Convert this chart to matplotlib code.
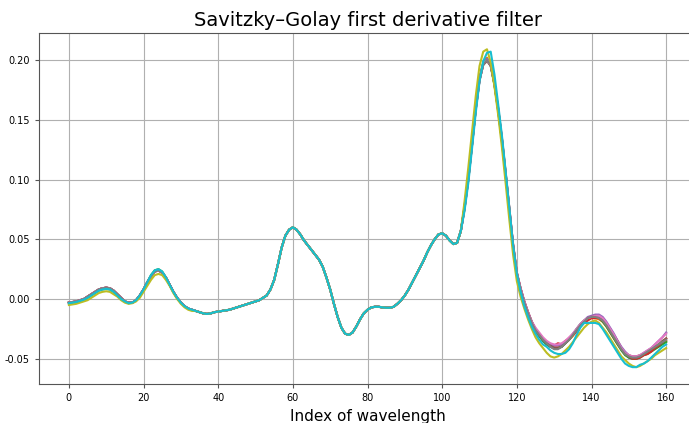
import numpy as np
import matplotlib.pyplot as plt

# wavelength index 0..160
idx = np.arange(161)

# start of the spectra (index 0..33), three groups
head_upper = [-0.003, -0.0025, -0.002, -0.001, 0.000, 0.002, 0.004, 0.006, 0.008, 0.009,
              0.0095, 0.009, 0.007, 0.004, 0.001, -0.002, -0.003, -0.003, -0.001, 0.003,
              0.008, 0.014, 0.019, 0.023, 0.024, 0.022, 0.018, 0.012, 0.006, 0.001,
              -0.003, -0.006, -0.008, -0.009]
head_mid = [-0.0035, -0.003, -0.0025, -0.0015, -0.0005, 0.001, 0.003, 0.005, 0.007, 0.008,
            0.0085, 0.008, 0.006, 0.003, 0.000, -0.002, -0.0035, -0.003, -0.001, 0.003,
            0.008, 0.014, 0.020, 0.024, 0.025, 0.023, 0.018, 0.012, 0.006, 0.001,
            -0.003, -0.006, -0.008, -0.009]
head_lower = [-0.005, -0.0045, -0.004, -0.003, -0.002, -0.001, 0.001, 0.003, 0.005, 0.006,
              0.0065, 0.006, 0.004, 0.002, -0.001, -0.003, -0.004, -0.0035, -0.002, 0.001,
              0.006, 0.011, 0.016, 0.020, 0.021, 0.020, 0.016, 0.011, 0.005, 0.000,
              -0.004, -0.007, -0.009, -0.010]

# common part (index 34..105)
body = [-0.010, -0.011, -0.012, -0.0125, -0.012, -0.011, -0.0105, -0.010, -0.0095, -0.009,
        -0.008, -0.007, -0.006, -0.005, -0.004, -0.003, -0.002, -0.001, 0.001, 0.003,
        0.008, 0.016, 0.029, 0.043, 0.053, 0.058, 0.060, 0.058, 0.054, 0.049,
        0.045, 0.041, 0.037, 0.033, 0.027, 0.018, 0.008, -0.004, -0.015, -0.024,
        -0.029, -0.030, -0.028, -0.023, -0.017, -0.012, -0.009, -0.007, -0.0065, -0.0065,
        -0.007, -0.0073, -0.0073, -0.0065, -0.004, -0.001, 0.003, 0.008, 0.014, 0.020,
        0.026, 0.032, 0.039, 0.045, 0.050, 0.054, 0.055, 0.053, 0.049, 0.046,
        0.047, 0.057]

# main peak and end of each spectrum (index 106..160)
tail_blue = [0.077, 0.101, 0.130, 0.160, 0.184, 0.197, 0.201, 0.196, 0.180, 0.158,
             0.133, 0.104, 0.074, 0.044, 0.021, 0.008, -0.003, -0.012, -0.020, -0.026,
             -0.031, -0.035, -0.038, -0.040, -0.041, -0.041, -0.040, -0.037, -0.034, -0.030,
             -0.026, -0.022, -0.019, -0.016, -0.015, -0.014, -0.015, -0.018, -0.022, -0.027,
             -0.032, -0.037, -0.042, -0.046, -0.049, -0.050, -0.050, -0.048, -0.046, -0.045,
             -0.043, -0.041, -0.039, -0.037, -0.035]
tail_orange = [0.077, 0.101, 0.130, 0.160, 0.184, 0.198, 0.202, 0.196, 0.180, 0.158,
               0.133, 0.104, 0.074, 0.044, 0.021, 0.008, -0.003, -0.012, -0.020, -0.026,
               -0.030, -0.034, -0.037, -0.039, -0.040, -0.040, -0.039, -0.037, -0.034, -0.031,
               -0.027, -0.023, -0.020, -0.017, -0.016, -0.016, -0.017, -0.019, -0.023, -0.028,
               -0.033, -0.038, -0.042, -0.045, -0.047, -0.048, -0.048, -0.047, -0.046, -0.044,
               -0.042, -0.040, -0.038, -0.036, -0.035]
tail_green = [0.078, 0.102, 0.131, 0.161, 0.185, 0.198, 0.201, 0.195, 0.179, 0.157,
              0.132, 0.103, 0.073, 0.043, 0.020, 0.007, -0.004, -0.013, -0.021, -0.027,
              -0.031, -0.035, -0.038, -0.040, -0.041, -0.041, -0.040, -0.037, -0.034, -0.030,
              -0.025, -0.021, -0.018, -0.016, -0.015, -0.015, -0.016, -0.019, -0.023, -0.028,
              -0.033, -0.038, -0.043, -0.047, -0.049, -0.050, -0.050, -0.049, -0.047, -0.046,
              -0.044, -0.042, -0.040, -0.038, -0.036]
tail_red = [0.076, 0.100, 0.129, 0.159, 0.183, 0.196, 0.200, 0.196, 0.181, 0.160,
            0.135, 0.106, 0.076, 0.046, 0.022, 0.009, -0.002, -0.011, -0.019, -0.025,
            -0.030, -0.033, -0.036, -0.038, -0.039, -0.037, -0.038, -0.035, -0.033, -0.030,
            -0.027, -0.023, -0.020, -0.018, -0.016, -0.016, -0.016, -0.018, -0.021, -0.025,
            -0.030, -0.035, -0.041, -0.045, -0.048, -0.050, -0.050, -0.049, -0.047, -0.046,
            -0.044, -0.041, -0.039, -0.036, -0.033]
tail_purple = [0.076, 0.100, 0.129, 0.159, 0.183, 0.197, 0.201, 0.197, 0.181, 0.159,
               0.134, 0.105, 0.075, 0.045, 0.022, 0.009, -0.002, -0.011, -0.019, -0.025,
               -0.029, -0.033, -0.036, -0.038, -0.039, -0.039, -0.038, -0.036, -0.033, -0.029,
               -0.025, -0.021, -0.018, -0.015, -0.014, -0.013, -0.013, -0.015, -0.019, -0.024,
               -0.029, -0.035, -0.040, -0.044, -0.047, -0.048, -0.048, -0.047, -0.045, -0.043,
               -0.041, -0.038, -0.035, -0.032, -0.028]
tail_brown = [0.076, 0.100, 0.129, 0.159, 0.183, 0.196, 0.199, 0.195, 0.180, 0.159,
              0.134, 0.105, 0.075, 0.045, 0.022, 0.009, -0.002, -0.011, -0.019, -0.025,
              -0.030, -0.034, -0.037, -0.039, -0.041, -0.041, -0.040, -0.037, -0.034, -0.030,
              -0.026, -0.022, -0.019, -0.016, -0.015, -0.014, -0.015, -0.018, -0.022, -0.027,
              -0.032, -0.037, -0.042, -0.046, -0.048, -0.049, -0.049, -0.048, -0.046, -0.044,
              -0.042, -0.040, -0.038, -0.035, -0.033]
tail_pink = [0.076, 0.100, 0.129, 0.159, 0.183, 0.197, 0.200, 0.196, 0.181, 0.159,
             0.134, 0.105, 0.075, 0.045, 0.022, 0.009, -0.002, -0.011, -0.019, -0.024,
             -0.028, -0.032, -0.035, -0.037, -0.038, -0.038, -0.037, -0.035, -0.032, -0.029,
             -0.025, -0.021, -0.018, -0.016, -0.015, -0.014, -0.014, -0.016, -0.020, -0.025,
             -0.030, -0.036, -0.041, -0.045, -0.047, -0.048, -0.048, -0.047, -0.045, -0.043,
             -0.041, -0.038, -0.035, -0.032, -0.029]
tail_gray = [0.076, 0.100, 0.129, 0.159, 0.183, 0.196, 0.200, 0.196, 0.180, 0.159,
             0.134, 0.105, 0.075, 0.045, 0.022, 0.008, -0.003, -0.012, -0.020, -0.026,
             -0.030, -0.034, -0.037, -0.040, -0.042, -0.042, -0.040, -0.037, -0.034, -0.030,
             -0.026, -0.022, -0.019, -0.016, -0.015, -0.015, -0.016, -0.018, -0.022, -0.027,
             -0.032, -0.037, -0.042, -0.046, -0.048, -0.049, -0.049, -0.048, -0.046, -0.044,
             -0.042, -0.040, -0.038, -0.036, -0.034]
tail_olive = [0.082, 0.110, 0.140, 0.170, 0.195, 0.207, 0.209, 0.198, 0.178, 0.154,
              0.127, 0.097, 0.066, 0.037, 0.015, 0.002, -0.008, -0.017, -0.025, -0.032,
              -0.037, -0.041, -0.045, -0.048, -0.049, -0.048, -0.046, -0.043, -0.040, -0.036,
              -0.032, -0.028, -0.024, -0.021, -0.019, -0.018, -0.020, -0.024, -0.028, -0.033,
              -0.038, -0.043, -0.048, -0.051, -0.054, -0.056, -0.057, -0.056, -0.054, -0.052,
              -0.050, -0.047, -0.045, -0.043, -0.041]
tail_cyan = [0.074, 0.097, 0.126, 0.156, 0.182, 0.199, 0.206, 0.207, 0.188, 0.163,
             0.137, 0.107, 0.076, 0.045, 0.021, 0.006, -0.006, -0.015, -0.023, -0.029,
             -0.034, -0.038, -0.040, -0.043, -0.045, -0.046, -0.046, -0.045, -0.042, -0.037,
             -0.030, -0.024, -0.020, -0.020, -0.020, -0.020, -0.021, -0.025, -0.030, -0.035,
             -0.040, -0.045, -0.050, -0.054, -0.056, -0.057, -0.057, -0.055, -0.054, -0.052,
             -0.049, -0.046, -0.043, -0.040, -0.038]

spectra = [
    ("tab:blue", head_upper, tail_blue),
    ("tab:orange", head_upper, tail_orange),
    ("tab:green", head_mid, tail_green),
    ("tab:red", head_upper, tail_red),
    ("tab:purple", head_upper, tail_purple),
    ("tab:brown", head_upper, tail_brown),
    ("tab:pink", head_upper, tail_pink),
    ("tab:gray", head_upper, tail_gray),
    ("tab:olive", head_lower, tail_olive),
    ("tab:cyan", head_mid, tail_cyan),
]

fig = plt.figure(figsize=(6.89, 4.23), dpi=100)
ax = fig.add_axes([0.0566, 0.0922, 0.9536, 0.8298])

for color, head, tail in spectra:
    y = np.concatenate([head, body, tail])
    ax.plot(idx, y, color=color, linewidth=1.5)

ax.set_xlim(-8, 168)
ax.set_ylim(-0.0711, 0.2226)
ax.set_xticks([0, 20, 40, 60, 80, 100, 120, 140, 160])
ax.set_yticks([-0.05, 0.00, 0.05, 0.10, 0.15, 0.20])
ax.yaxis.set_major_formatter(plt.FormatStrFormatter('%.2f'))
ax.tick_params(labelsize=7, length=3, color='#555555')
ax.grid(True, color='#b0b0b0', linewidth=0.8)
for s in ax.spines.values():
    s.set_color('#555555')

ax.set_title("Savitzky–Golay first derivative filter", fontsize=14, pad=5)
ax.set_xlabel("Index of wavelength", fontsize=11, labelpad=4)

fig.savefig("out.png", dpi=100)
